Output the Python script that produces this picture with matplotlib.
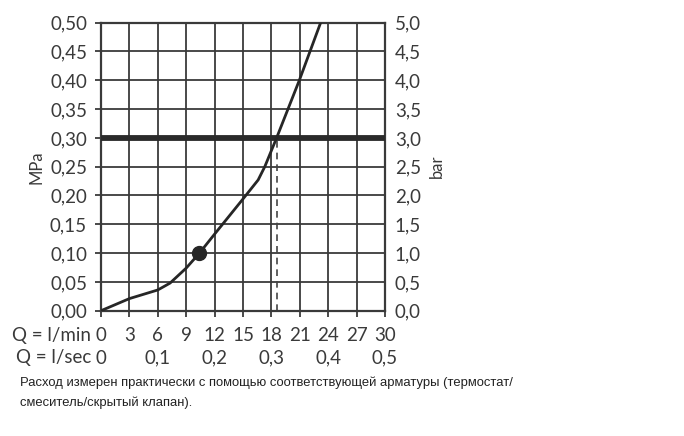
import matplotlib
matplotlib.use("Agg")
import matplotlib.pyplot as plt
import matplotlib.transforms as mtransforms

# Data
q_lmin = [0, 3, 6, 7.3, 9, 10.4, 12, 15, 16.6, 17.3, 18.55, 19.75, 20.95, 23.2]
pressure_mpa = [0, 0.021, 0.036, 0.048, 0.074, 0.10, 0.133, 0.194, 0.227, 0.25, 0.30, 0.35, 0.40, 0.50]
point_q = 10.4
point_p = 0.10
limit_p = 0.30
limit_q = 18.55
xticks_lmin = [0, 3, 6, 9, 12, 15, 18, 21, 24, 27, 30]
xticks_lsec_pos = [0, 6, 12, 18, 24, 30]
xticks_lsec_lab = ["0", "0,1", "0,2", "0,3", "0,4", "0,5"]
yticks_mpa = [0, 0.05, 0.10, 0.15, 0.20, 0.25, 0.30, 0.35, 0.40, 0.45, 0.50]
yticks_bar = [0, 0.5, 1.0, 1.5, 2.0, 2.5, 3.0, 3.5, 4.0, 4.5, 5.0]
caption_lines = ["Расход измерен практически с помощью соответствующей арматуры (термостат/",
                 "смеситель/скрытый клапан)."]

FONT = ["Lato", "DejaVu Sans"]
FW = "normal"
FS = 13.5
TCOL = "#3a3a3a"
GCOL = "#3a3a3a"

fig = plt.figure(figsize=(6.84, 4.36), dpi=100)
ax = fig.add_axes([101/684, 1-310.7/436, (385-101)/684, (310.7-22.7)/436])

ax.set_xlim(0, 30)
ax.set_ylim(0, 0.5)
ax.set_xticks(xticks_lmin)
ax.set_xticklabels([str(v) for v in xticks_lmin])
ax.set_yticks(yticks_mpa)
ax.set_yticklabels([f"{v:.2f}".replace(".", ",") for v in yticks_mpa])
ax.grid(True, color=GCOL, linewidth=1.3)
ax.set_axisbelow(True)
for s in ax.spines.values():
    s.set_color(GCOL)
    s.set_linewidth(1.6)
ax.tick_params(axis="both", direction="out", length=4, width=1.3, color=GCOL,
               labelsize=FS, labelcolor=TCOL)
ax.tick_params(axis="x", pad=8)
ax.tick_params(axis="y", pad=6)
for lab in ax.get_xticklabels() + ax.get_yticklabels():
    lab.set_family(FONT)
    lab.set_weight(FW)

# heavy limit line
ax.axhline(limit_p, color="#2a2a2a", linewidth=4.2, zorder=3)
# dashed vertical
ax.plot([limit_q, limit_q], [0, limit_p], color="#444444", linewidth=1.2,
        dashes=(4, 3), zorder=2)
# curve
ax.plot(q_lmin, pressure_mpa, color="#262626", linewidth=2.0, zorder=4)
ax.plot([point_q], [point_p], "o", color="#262626", markersize=10, zorder=5)

ax.set_ylabel("MPa", family=FONT, weight=FW, fontsize=12, color=TCOL, labelpad=4)

ax2 = ax.twinx()
ax2.set_ylim(0, 5)
ax2.set_yticks(yticks_bar)
ax2.set_yticklabels([f"{v:.1f}".replace(".", ",") for v in yticks_bar],
                    family=FONT, weight=FW)
ax2.tick_params(axis="y", length=0, pad=7, labelsize=FS, labelcolor=TCOL)
for s in ax2.spines.values():
    s.set_visible(False)
ax2.set_ylabel("bar", family=FONT, weight=FW, fontsize=12, color=TCOL,
               rotation=90, labelpad=6)

# second row of x labels
trans = mtransforms.blended_transform_factory(ax.transData, fig.transFigure)
for pos, lab in zip(xticks_lsec_pos, xticks_lsec_lab):
    ax.text(pos, 1-358/436, lab, transform=trans, ha="center", va="center",
            family=FONT, weight=FW, fontsize=FS, color=TCOL)
fig.text(91/684, 1-335/436, "Q = l/min", ha="right", va="center",
         family=FONT, weight=FW, fontsize=FS, color=TCOL)
fig.text(91/684, 1-358/436, "Q = l/sec", ha="right", va="center",
         family=FONT, weight=FW, fontsize=FS, color=TCOL)

for i, line in enumerate(caption_lines):
    fig.text(20/684, 1-(383+20*i)/436, line, ha="left", va="center",
             family="Liberation Sans", fontsize=9.4, color="#222222")

fig.savefig("out.png", dpi=100, facecolor="white")
